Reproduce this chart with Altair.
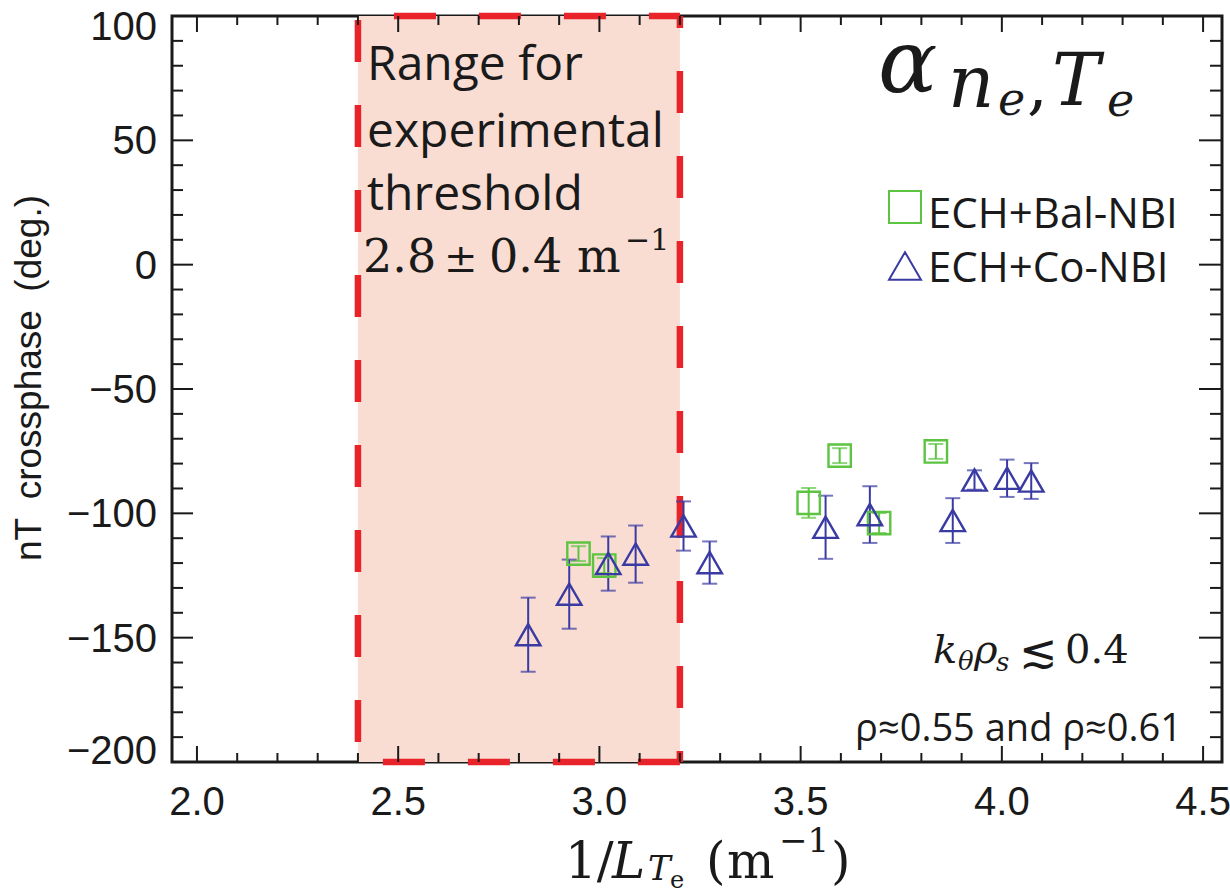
import altair as alt
import pandas as pd

# ---------------- data ----------------
bal_x = [2.948, 3.012, 3.520, 3.597, 3.695, 3.836]
bal_y = [-116.2, -121.0, -95.8, -76.8, -103.9, -75.1]
bal_err = [3.0, 3.0, 6.0, 3.0, 4.0, 3.0]

co_x = [2.823, 2.925, 3.022, 3.090, 3.209, 3.274, 3.562, 3.672, 3.878, 3.932, 4.013, 4.073]
co_y = [-148.8, -132.5, -120.2, -116.4, -105.1, -119.8, -105.6, -100.5, -102.9, -86.6, -85.9, -87.0]
co_err = [14.9, 13.9, 10.9, 11.5, 9.9, 8.5, 12.7, 11.4, 9.0, 3.9, 7.5, 7.2]

series_names = ["ECH+Bal-NBI", "ECH+Co-NBI"]
series_colors = ["#5cc440", "#3a3aa3"]
series_shapes = ["square", "triangle-up"]

thr_lo, thr_hi = 2.4, 3.2          # 2.8 +/- 0.4
x_domain = [1.938, 4.547]
y_domain = [-200, 100]
x_major = [2.0, 2.5, 3.0, 3.5, 4.0, 4.5]
x_major_labels = ["2.0", "2.5", "3.0", "3.5", "4.0", "4.5"]
x_minor = [round(2.0 + 0.1 * i, 1) for i in range(26) if i % 5 != 0]
y_major = [-200, -150, -100, -50, 0, 50, 100]
y_major_labels = ["\u2212200", "\u2212150", "\u2212100", "\u221250", "0", "50", "100"]
y_minor = [v for v in range(-190, 100, 10) if v % 50 != 0]

W, H = 1050, 746
INK = "#1a1a1a"

df = pd.DataFrame({
    "x": bal_x + co_x,
    "y": bal_y + co_y,
    "err": bal_err + co_err,
    "series": [series_names[0]] * len(bal_x) + [series_names[1]] * len(co_x),
})
df["lo"] = df["y"] - df["err"]
df["hi"] = df["y"] + df["err"]

xs = alt.Scale(domain=x_domain, nice=False, zero=False)
ys = alt.Scale(domain=y_domain, nice=False, zero=False)
cscale = alt.Scale(domain=series_names, range=series_colors)
sscale = alt.Scale(domain=series_names, range=series_shapes)

one = alt.Data(values=[{}])

# ---------------- threshold band ----------------
band_df = pd.DataFrame({"x0": [thr_lo], "x1": [thr_hi], "y0": [y_domain[0]], "y1": [y_domain[1]]})
band = alt.Chart(band_df).mark_rect(color="#f9ddd3").encode(
    x=alt.X("x0:Q", scale=xs, axis=None), x2="x1:Q",
    y=alt.Y("y0:Q", scale=ys, axis=None), y2="y1:Q")

def dashed(df_, x, x2, y, y2, offset):
    return alt.Chart(df_).mark_rule(color="#e8232a", strokeWidth=6.5,
                                    strokeDash=[42, 43], strokeDashOffset=offset).encode(
        x=alt.X(x + ":Q", scale=xs, axis=None), x2=x2 + ":Q",
        y=alt.Y(y + ":Q", scale=ys, axis=None), y2=y2 + ":Q")

edge_left = dashed(band_df, "x0", "x0", "y1", "y0", 81)
edge_right = dashed(band_df, "x1", "x1", "y1", "y0", 30)
edge_top = dashed(band_df, "x0", "x1", "y1", "y1", 49)
edge_bottom = dashed(band_df, "x1", "x0", "y0", "y0", 0)

# ---------------- inward ticks on all four sides ----------------
def yticks(vals, x0, x1):
    return alt.Chart(pd.DataFrame({"v": vals})).mark_rule(color=INK, strokeWidth=2).encode(
        y=alt.Y("v:Q", scale=ys, axis=None), x=alt.value(x0), x2=alt.value(x1))

def xticks(vals, y0, y1):
    return alt.Chart(pd.DataFrame({"v": vals})).mark_rule(color=INK, strokeWidth=2).encode(
        x=alt.X("v:Q", scale=xs, axis=None), y=alt.value(y0), y2=alt.value(y1))

ticks = [
    yticks(y_major, 0, 21), yticks(y_minor, 0, 11),
    yticks(y_major, W, W - 23), yticks(y_minor, W, W - 12),
    xticks(x_major, H, H - 16), xticks(x_minor, H, H - 9),
    xticks(x_major, 0, 16), xticks(x_minor, 0, 9),
]

# ---------------- tick labels (drawn through the scales) ----------------
LABEL_FONT = "Liberation Sans"
ylab_df = pd.DataFrame({"v": y_major, "t": y_major_labels})
ylab_mid = alt.Chart(ylab_df).transform_filter(
    (alt.datum.v > y_domain[0]) & (alt.datum.v < y_domain[1])).mark_text(
    font=LABEL_FONT, fontSize=40, align="right", baseline="middle", color=INK, dy=2).encode(
    y=alt.Y("v:Q", scale=ys, axis=None), x=alt.value(-15), text="t:N")
ylab_top = alt.Chart(ylab_df).transform_filter(alt.datum.v == y_domain[1]).mark_text(
    font=LABEL_FONT, fontSize=40, align="right", baseline="middle", color=INK, dy=12).encode(
    y=alt.Y("v:Q", scale=ys, axis=None), x=alt.value(-15), text="t:N")
ylab_bot = alt.Chart(ylab_df).transform_filter(alt.datum.v == y_domain[0]).mark_text(
    font=LABEL_FONT, fontSize=40, align="right", baseline="middle", color=INK, dy=-10).encode(
    y=alt.Y("v:Q", scale=ys, axis=None), x=alt.value(-15), text="t:N")
xlab = alt.Chart(pd.DataFrame({"v": x_major, "t": x_major_labels})).mark_text(
    font=LABEL_FONT, fontSize=40, align="center", baseline="middle", color=INK).encode(
    x=alt.X("v:Q", scale=xs, axis=None), y=alt.value(H + 41), text="t:N")

# ---------------- data: error bars + markers ----------------
ebar = alt.Chart(df).mark_rule(strokeWidth=2).encode(
    x=alt.X("x:Q", scale=xs, axis=None),
    y=alt.Y("lo:Q", scale=ys, axis=None), y2="hi:Q",
    color=alt.Color("series:N", scale=cscale, legend=None))
cap_lo = alt.Chart(df).mark_tick(orient="horizontal", size=15, thickness=2).encode(
    x=alt.X("x:Q", scale=xs, axis=None), y=alt.Y("lo:Q", scale=ys, axis=None),
    color=alt.Color("series:N", scale=cscale, legend=None))
cap_hi = alt.Chart(df).mark_tick(orient="horizontal", size=15, thickness=2).encode(
    x=alt.X("x:Q", scale=xs, axis=None), y=alt.Y("hi:Q", scale=ys, axis=None),
    color=alt.Color("series:N", scale=cscale, legend=None))

points = alt.Chart(df).mark_point(filled=False, strokeWidth=2.4, opacity=1).encode(
    x=alt.X("x:Q", scale=xs, axis=None),
    y=alt.Y("y:Q", scale=ys, axis=None),
    color=alt.Color("series:N", scale=cscale, legend=None),
    shape=alt.Shape("series:N", scale=sscale, legend=None),
    size=alt.Size("series:N", scale=alt.Scale(domain=series_names, range=[500, 600]), legend=None),
)

# ---------------- legend (drawn by hand, top right) ----------------
leg_sym = [
    alt.Chart(one).mark_point(shape=series_shapes[i], filled=False, size=1024, strokeWidth=2,
                              color=series_colors[i], opacity=1).encode(
        x=alt.value(733), y=alt.value(191 + 59 * i))
    for i in range(2)
]

# ---------------- text annotations ----------------
def txt(s, x, y, size, font="Open Sans", italic=False, align="left", baseline="alphabetic", angle=0):
    kw = dict(text=s, fontSize=size, font=font, align=align, baseline=baseline, color=INK)
    if italic:
        kw["fontStyle"] = "italic"
    if angle:
        kw["angle"] = angle
    return alt.Chart(one).mark_text(**kw).encode(x=alt.value(x), y=alt.value(y))

SERIF = "DejaVu Serif"
texts = [
    txt(series_names[0], 756, 212, 42),
    txt(series_names[1], 756, 266, 42),
    txt("Range for", 195, 64, 48),
    txt("experimental", 195, 131, 48),
    txt("threshold", 195, 194, 48),
    # 2.8 +/- 0.4 m^-1
    txt("2.8", 191, 256, 46, SERIF),
    txt("\u00b1", 272, 256, 40, SERIF),
    txt("0.4", 317, 256, 46, SERIF),
    txt("m", 405, 256, 46, SERIF),
    txt("\u22121", 453, 234, 30, SERIF),
    # alpha_{n_e, T_e}
    txt("\u03b1", 706, 76, 88, SERIF, italic=True),
    txt("n", 776, 91, 72, SERIF, italic=True),
    txt("e", 826, 99, 46, SERIF, italic=True),
    txt(",", 855, 91, 66, SERIF),
    txt("T", 880, 89, 72, SERIF, italic=True),
    txt("e", 935, 100, 46, SERIF, italic=True),
    # k_theta rho_s <~ 0.4
    txt("k", 761, 647, 40, SERIF, italic=True),
    txt("\u03b8", 786, 654, 26, SERIF, italic=True),
    txt("\u03c1", 802, 647, 40, SERIF, italic=True),
    txt("s", 824, 655, 26, SERIF, italic=True),
    txt("\u2272", 847, 651, 46, SERIF),
    txt("0.4", 893, 647, 40, SERIF),
    txt("\u03c1\u22480.55 and \u03c1\u22480.61", 1010, 725, 38, align="right"),
    # y axis title
    txt("nT\u2002crossphase\u2002(deg.)", -131, 362, 37, "Liberation Sans", angle=270, align="center"),
    # x axis title 1/L_{T_e} (m^-1)
    txt("1/", 393, 862, 50, SERIF),
    txt("L", 440, 862, 50, SERIF, italic=True),
    txt("T", 476, 864, 34, SERIF, italic=True),
    txt("e", 498, 872, 24, SERIF),
    txt("(", 534, 862, 50, SERIF),
    txt("m", 555, 862, 50, SERIF),
    txt("\u22121", 607, 836, 34, SERIF),
    txt(")", 659, 862, 50, SERIF),
]

chart = alt.layer(
    band, edge_left, edge_right, edge_top, edge_bottom,
    *ticks, ebar, cap_lo, cap_hi, points,
    ylab_mid, ylab_top, ylab_bot, xlab, *leg_sym, *texts
).properties(
    width=W, height=H,
    autosize=alt.AutoSizeParams(type="none"),
    padding={"left": 172, "top": 16, "right": 8, "bottom": 131},
    background="white",
).configure_view(stroke=INK, strokeWidth=3)

chart.save("out.html", embed_options={"renderer": "svg", "actions": False})
